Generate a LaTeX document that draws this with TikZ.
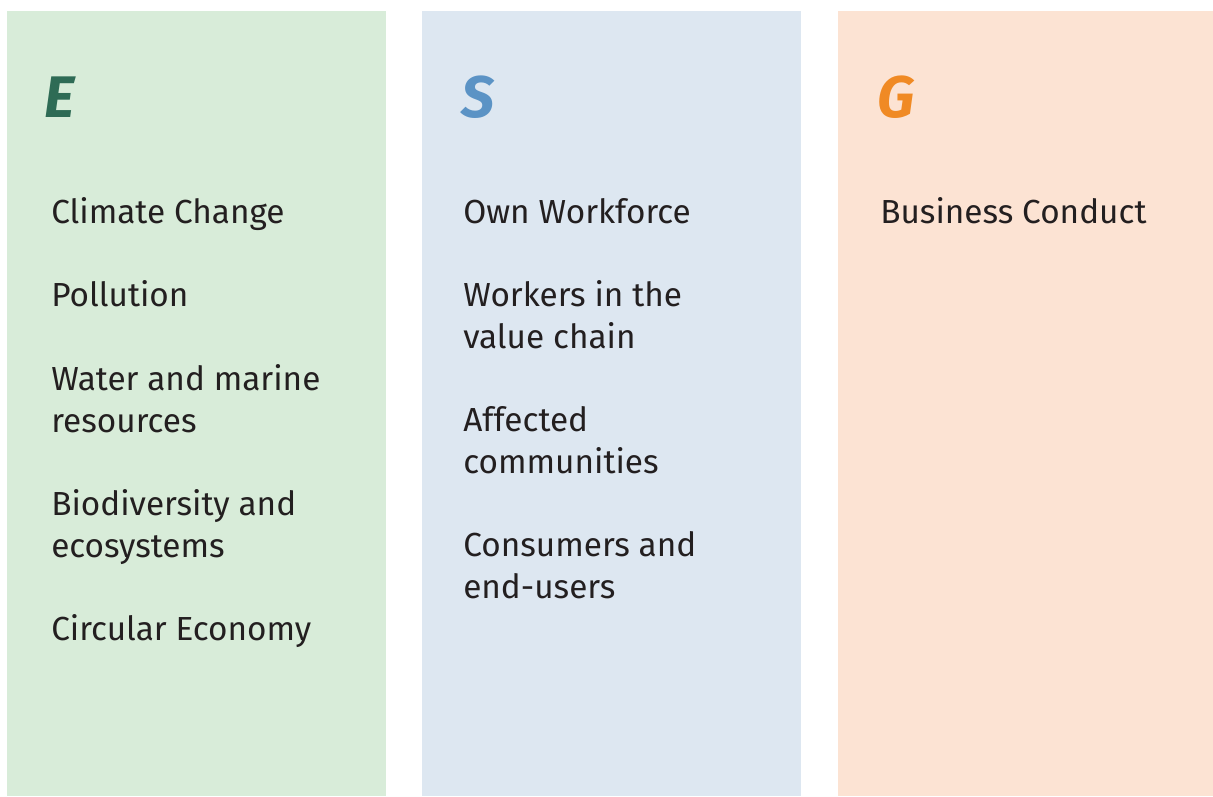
\documentclass[tikz,border=0pt]{standalone}
\usepackage{fontspec}
\setmainfont{Fira Sans}
\usetikzlibrary{positioning}

\definecolor{envfill}{HTML}{D8ECD9}
\definecolor{socfill}{HTML}{DDE7F1}
\definecolor{govfill}{HTML}{FCE3D3}
\definecolor{envtext}{HTML}{2E6B55}
\definecolor{soctext}{HTML}{5B93C5}
\definecolor{govtext}{HTML}{F08A24}
\definecolor{ink}{HTML}{231F20}

% first line sits on the node's baseline
\newcommand{\itemlines}[1]{\begin{tabular}[t]{@{}l@{}}#1\end{tabular}}

\begin{document}
\begin{tikzpicture}[x=0.75pt, y=-0.75pt,
    letter/.style={anchor=base west, inner sep=0pt, text=#1,
      font=\fontsize{44}{44}\selectfont\bfseries\itshape},
    item/.style={anchor=base west, inner sep=0pt, text=ink,
      font=\fontsize{25}{31.5}\selectfont}]
    \useasboundingbox (0,0) rectangle (1213,796);

    % Column backgrounds
    \fill[envfill] (7,11) rectangle (386,796);
    \fill[socfill] (422,11) rectangle (801,796);
    \fill[govfill] (838,11) rectangle (1213,796);

    % Environmental
    \node[letter=envtext] (e) at (44,117) {E};
    \node[item] (climate) at (51,223) {Climate Change};
    \node[item] (pollution) at (51,306) {Pollution};
    \node[item] (water) at (51,390) {\itemlines{Water and marine\\resources}};
    \node[item] (biodiv) at (51,515) {\itemlines{Biodiversity and\\ecosystems}};
    \node[item] (circular) at (51,640) {Circular Economy};

    % Social
    \node[letter=soctext] (s) at (461,117) {S};
    \node[item] (workforce) at (463,223) {Own Workforce};
    \node[item] (workers) at (463,306) {\itemlines{Workers in the\\value chain}};
    \node[item] (affected) at (463,431) {\itemlines{Affected\\communities}};
    \node[item] (consumers) at (463,556) {\itemlines{Consumers and\\end-users}};

    % Governance
    \node[letter=govtext] (g) at (877,117) {G};
    \node[item] (conduct) at (880,223) {Business Conduct};
\end{tikzpicture}
\end{document}
